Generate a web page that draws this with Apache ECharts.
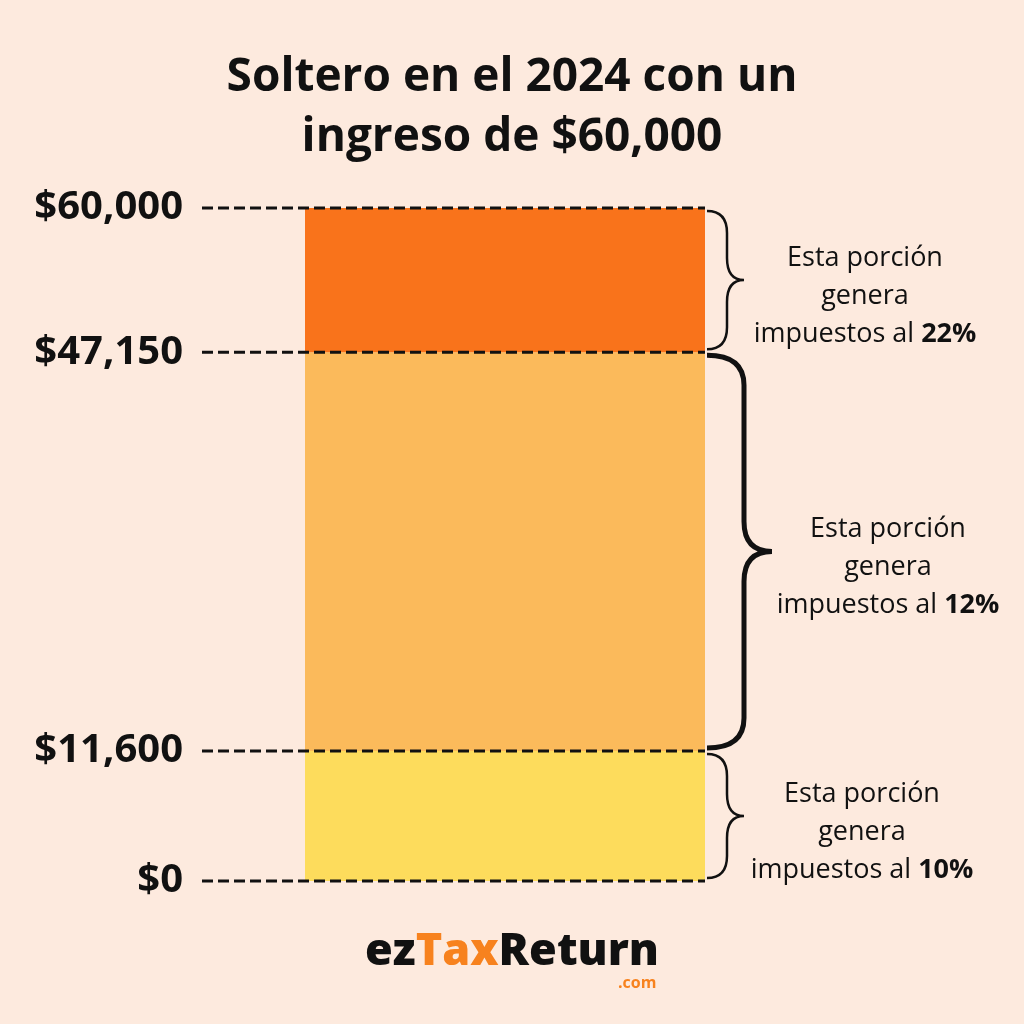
<!DOCTYPE html>
<html><head><meta charset="utf-8">
<script src="https://cdn.jsdelivr.net/npm/echarts@6/dist/echarts.min.js"></script>
<style>html,body{margin:0;padding:0;background:#FDEADE;}#c{width:1024px;height:1024px;}</style>
</head><body><div id="c"></div>
<script>
// ---- data ----
const categories = ['Ingreso'];
const segmentNames = ['10%', '12%', '22%'];
const segmentAmounts = [11600, 35550, 12850];
const bracketLow = [0, 11600, 47150];
const bracketHigh = [11600, 47150, 60000];
const tickValues = [0, 11600, 47150, 60000];
const tickLabels = ['$0', '$11,600', '$47,150', '$60,000'];
const titleText = 'Soltero en el 2024 con un\ningreso de $60,000';

// ---- styles ----
const segColors = ['#FDDC5C', '#FBBA5B', '#F9731B'];
const braceStyle = [
  {w: 2.5, d: 20, tip: 17, r: 22, dx: 118},
  {w: 5,   d: 37, tip: 28, r: 30, dx: 116},
  {w: 2.5, d: 20, tip: 17, r: 22, dx: 121}
];
const FONT = '"Open Sans", Lato, sans-serif';

const chart = echarts.init(document.getElementById('c'), null, {renderer: 'canvas'});

const barSeries = segmentAmounts.map((v, i) => ({
  type: 'bar', name: segmentNames[i], stack: 'total',
  data: [v], barWidth: '100%', itemStyle: {color: segColors[i]},
  silent: true, z: 2
}));

const tickSeries = {
  type: 'custom', z: 6, silent: true,
  data: tickValues.map((v, i) => [0, v, i]),
  renderItem: function (params, api) {
    const cs = params.coordSys;
    const y = api.coord([0, api.value(1)])[1];
    const i = api.value(2);
    return {
      type: 'group', children: [
        {type: 'line', shape: {x1: cs.x - 103, y1: y, x2: cs.x + cs.width, y2: y},
         style: {stroke: '#111', lineWidth: 3, lineDash: [11, 5]}},
        {type: 'text', style: {x: cs.x - 122, y: y, text: tickLabels[i], textAlign: 'right', textVerticalAlign: 'middle',
          fill: '#111', font: 'bold 40px ' + FONT}}
      ]
    };
  }
};

const braceSeries = {
  type: 'custom', z: 6, silent: true,
  data: bracketLow.map((lo, i) => [0, lo, bracketHigh[i], i]),
  renderItem: function (params, api) {
    const cs = params.coordSys;
    const i = api.value(3);
    const s = braceStyle[i];
    const x0 = cs.x + cs.width + 2;
    const y1 = api.coord([0, api.value(2)])[1] + 3;
    const y2 = api.coord([0, api.value(1)])[1] - 3;
    const ym = (y1 + y2) / 2;
    const xv = x0 + s.d, xt = xv + s.tip, r = s.r;
    const p = `M${x0} ${y1} Q${xv} ${y1} ${xv} ${y1 + r} L${xv} ${ym - r} Q${xv} ${ym} ${xt} ${ym} ` +
              `Q${xv} ${ym} ${xv} ${ym + r} L${xv} ${y2 - r} Q${xv} ${y2} ${x0} ${y2}`;
    return {
      type: 'group', children: [
        {type: 'path', shape: {pathData: p}, style: {stroke: '#111', fill: null, lineWidth: s.w}},
        {type: 'text', style: {
          x: xt + s.dx, y: ym + 16,
          text: 'Esta porción\ngenera\nimpuestos al {b|' + segmentNames[i] + '}',
          textAlign: 'center', textVerticalAlign: 'middle',
          fill: '#111', font: '27px ' + FONT, lineHeight: 38,
          rich: {b: {fontWeight: 'bold', fontSize: 27, fontFamily: FONT, fill: '#111', lineHeight: 38}}
        }}
      ]
    };
  }
};

chart.setOption({
  backgroundColor: '#FDEADE',
  animation: false,
  title: {
    text: titleText, left: 'center', top: 43,
    textStyle: {fontFamily: FONT, fontWeight: 'bold', fontSize: 46, lineHeight: 60, color: '#111'}
  },
  grid: {left: 305, right: 319, top: 208, bottom: 143},
  xAxis: {type: 'category', data: categories, show: false},
  yAxis: {type: 'value', min: 0, max: 60000, show: false},
  series: [...barSeries, tickSeries, braceSeries],
  graphic: [{
    type: 'text', left: 'center', top: 930,
    style: {
      text: '{k|ez}{o|Tax}{k|Return}',
      rich: {
        k: {fontFamily: FONT, fontWeight: 800, fontSize: 45, fill: '#111'},
        o: {fontFamily: FONT, fontWeight: 800, fontSize: 45, fill: '#F7821E'}
      }
    }
  }, {
    type: 'text', left: 618, top: 975,
    style: {text: '.com', fill: '#F7821E', font: 'bold 16px ' + FONT}
  }]
});
</script></body></html>
